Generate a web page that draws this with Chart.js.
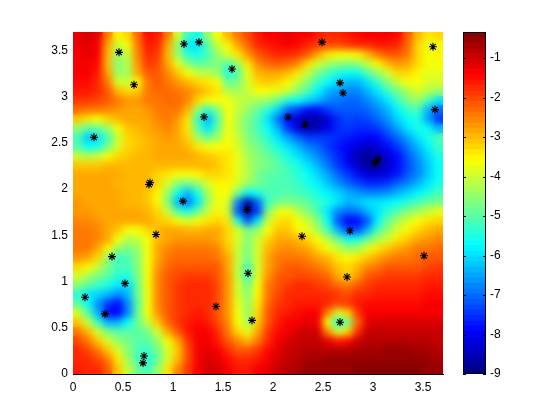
<!DOCTYPE html>
<html>
<head>
<meta charset="utf-8">
<script src="https://cdn.jsdelivr.net/npm/chart.js@4"></script>
<style>
  html, body { margin: 0; padding: 0; background: #fff; }
  #wrap { position: relative; width: 560px; height: 420px; overflow: hidden; }
  canvas { position: absolute; top: 0; }
</style>
</head>
<body>
<div id="wrap">
  <canvas id="map" width="560" height="420" style="left:0"></canvas>
  <canvas id="cbar" width="120" height="420" style="left:440px"></canvas>
</div>
<script>
// cell centres of the map
const xCenters = [.05,.15,.25,.35,.45,.55,.65,.75,.85,.95,1.05,1.15,1.25,1.35,1.45,1.55,1.65,1.75,1.85,1.95,2.05,2.15,2.25,2.35,2.45,2.55,2.65,2.75,2.85,2.95,3.05,3.15,3.25,3.35,3.45,3.55,3.65];
const yCenters = [3.65,3.55,3.45,3.35,3.25,3.15,3.05,2.95,2.85,2.75,2.65,2.55,2.45,2.35,2.25,2.15,2.05,1.95,1.85,1.75,1.65,1.55,1.45,1.35,1.25,1.15,1.05,.95,.85,.75,.65,.55,.45,.35,.25,.15,.05];

// values, one row per y centre
const fieldRows = [
[-1.2,-1.1,-1.2,-2.4,-3.5,-3.3,-2.3,-1.5,-1.6,-2.5,-3.9,-5.3,-5.6,-4.5,-3.7,-3.0,-2.5,-2.0,-1.6,-1.4,-1.3,-1.2,-1.3,-1.4,-1.6,-1.7,-1.7,-1.6,-1.5,-1.4,-1.4,-1.4,-1.5,-2.1,-3.0,-3.4,-3.2],
[-1.2,-1.2,-1.3,-2.8,-4.1,-3.7,-2.5,-1.6,-1.7,-2.8,-4.5,-5.9,-6.0,-5.0,-4.1,-3.5,-2.9,-2.3,-1.8,-1.6,-1.5,-1.4,-1.5,-1.7,-1.9,-2.0,-2.0,-1.9,-1.8,-1.7,-1.6,-1.6,-1.7,-2.3,-3.2,-3.8,-3.6],
[-1.3,-1.2,-1.4,-3.0,-4.5,-4.0,-2.6,-1.7,-1.9,-3.0,-4.4,-5.4,-5.6,-5.1,-4.4,-3.9,-3.4,-2.7,-2.1,-1.9,-1.8,-1.8,-1.9,-2.2,-2.8,-3.4,-3.6,-3.6,-3.5,-3.0,-2.4,-2.1,-2.1,-2.5,-3.2,-3.7,-3.5],
[-1.3,-1.3,-1.5,-3.0,-4.6,-4.2,-2.7,-1.9,-2.0,-2.9,-3.8,-4.6,-5.0,-4.9,-4.6,-5.0,-4.5,-3.4,-2.6,-2.3,-2.2,-2.3,-2.6,-3.2,-3.9,-4.3,-4.5,-4.6,-4.5,-4.1,-3.5,-3.0,-2.7,-2.8,-3.3,-3.7,-3.6],
[-1.4,-1.4,-1.6,-2.9,-4.4,-4.3,-2.9,-2.1,-2.1,-2.6,-3.1,-3.7,-4.0,-4.2,-4.5,-5.6,-5.0,-3.8,-3.0,-2.8,-2.8,-3.0,-3.4,-4.1,-4.7,-5.1,-5.5,-5.7,-5.7,-5.0,-4.5,-3.9,-3.3,-3.2,-3.5,-3.8,-3.8],
[-1.5,-1.5,-1.7,-2.5,-3.9,-4.1,-3.5,-2.4,-2.2,-2.4,-2.7,-3.0,-3.2,-3.4,-3.6,-4.9,-4.7,-3.9,-3.2,-3.1,-3.2,-3.5,-4.1,-4.6,-5.3,-5.7,-6.1,-6.3,-6.3,-5.9,-5.3,-4.6,-4.0,-3.7,-3.7,-3.9,-3.9],
[-1.6,-1.6,-1.8,-2.2,-3.0,-3.3,-3.1,-2.5,-2.3,-2.3,-2.4,-2.6,-2.9,-3.1,-3.4,-4.2,-4.3,-4.0,-3.6,-3.6,-3.8,-4.1,-4.6,-5.2,-5.8,-6.3,-6.6,-6.7,-6.7,-6.4,-6.0,-5.3,-4.7,-4.3,-3.9,-4.2,-4.4],
[-1.9,-1.9,-2.0,-2.2,-2.5,-2.7,-2.7,-2.5,-2.4,-2.3,-2.3,-2.6,-3.2,-3.7,-3.7,-3.7,-4.0,-4.2,-4.3,-4.5,-4.9,-5.6,-5.7,-6.1,-6.4,-6.7,-6.9,-7.0,-7.0,-6.8,-6.4,-5.9,-5.3,-4.8,-4.5,-5.2,-6.0],
[-2.3,-2.4,-2.5,-2.6,-2.7,-2.8,-2.8,-2.7,-2.5,-2.4,-2.5,-3.0,-4.4,-5.4,-4.6,-3.7,-4.1,-4.5,-4.9,-5.4,-6.1,-7.0,-7.5,-7.8,-7.8,-7.5,-7.2,-7.2,-7.2,-7.1,-6.8,-6.3,-5.8,-5.3,-5.1,-6.3,-7.1],
[-3.1,-3.4,-3.6,-3.3,-3.0,-2.9,-2.9,-2.8,-2.6,-2.5,-2.7,-3.4,-5.3,-6.4,-5.1,-3.7,-4.2,-4.7,-5.2,-5.9,-6.9,-7.9,-8.4,-8.7,-8.6,-8.2,-7.6,-7.3,-7.4,-7.3,-7.0,-6.6,-6.1,-5.7,-5.5,-6.5,-7.4],
[-4.4,-5.0,-4.9,-4.4,-3.6,-3.1,-3.0,-2.9,-2.7,-2.6,-2.8,-3.4,-5.0,-6.0,-4.9,-3.7,-4.2,-4.7,-5.2,-5.7,-6.4,-7.5,-8.2,-8.6,-8.5,-8.1,-7.6,-7.4,-7.6,-7.6,-7.4,-7.0,-6.5,-6.0,-5.6,-5.7,-6.3],
[-5.2,-6.2,-6.0,-5.2,-4.1,-3.3,-3.1,-3.0,-2.8,-2.7,-2.8,-3.2,-4.3,-4.9,-4.3,-3.6,-4.1,-4.6,-5.0,-5.4,-5.9,-6.5,-7.1,-7.5,-7.5,-7.5,-7.6,-7.7,-7.9,-8.0,-7.8,-7.4,-7.0,-6.5,-6.0,-5.5,-5.2],
[-5.0,-5.7,-5.5,-4.8,-3.9,-3.3,-3.1,-3.0,-2.9,-2.8,-2.8,-3.0,-3.4,-3.7,-3.6,-3.5,-3.9,-4.4,-4.8,-5.1,-5.5,-5.9,-6.4,-6.8,-7.1,-7.4,-7.7,-8.0,-8.3,-8.4,-8.3,-7.9,-7.4,-6.9,-6.4,-5.8,-5.3],
[-4.0,-4.2,-4.1,-3.7,-3.3,-3.1,-3.0,-3.0,-2.9,-2.9,-2.9,-2.9,-3.0,-3.1,-3.2,-3.4,-3.8,-4.3,-4.6,-4.9,-5.2,-5.5,-5.9,-6.4,-6.8,-7.2,-7.6,-8.1,-8.5,-8.8,-8.7,-8.3,-7.8,-7.2,-6.6,-6.1,-5.6],
[-3.1,-3.1,-3.1,-3.0,-3.0,-3.0,-3.0,-3.0,-3.0,-3.0,-3.0,-3.0,-3.0,-3.0,-3.1,-3.4,-3.8,-4.2,-4.6,-4.8,-5.0,-5.3,-5.6,-6.0,-6.4,-6.9,-7.4,-7.9,-8.4,-8.8,-8.8,-8.4,-7.9,-7.3,-6.8,-6.2,-5.7],
[-2.9,-2.9,-2.9,-2.9,-2.9,-3.0,-3.0,-3.0,-3.2,-3.4,-3.7,-3.7,-3.5,-3.3,-3.2,-3.4,-3.8,-4.2,-4.8,-5.0,-5.0,-5.2,-5.4,-5.7,-6.1,-6.5,-7.0,-7.5,-7.9,-8.3,-8.3,-8.1,-7.7,-7.2,-6.7,-6.2,-5.7],
[-2.8,-2.8,-2.9,-2.9,-3.0,-3.0,-3.0,-3.0,-3.3,-3.9,-4.6,-4.9,-4.5,-3.9,-3.5,-3.5,-3.9,-4.4,-4.7,-5.0,-5.1,-5.1,-5.3,-5.5,-5.8,-6.2,-6.6,-7.0,-7.3,-7.6,-7.6,-7.4,-7.1,-6.7,-6.3,-5.9,-5.5],
[-2.8,-2.8,-2.8,-2.9,-2.9,-3.0,-3.0,-3.1,-3.5,-4.4,-5.7,-6.4,-5.6,-4.3,-3.6,-3.6,-4.8,-5.8,-5.5,-5.2,-5.1,-5.0,-5.1,-5.3,-5.5,-5.8,-6.1,-6.4,-6.6,-6.7,-6.8,-6.6,-6.4,-6.1,-5.8,-5.5,-5.2],
[-2.7,-2.8,-2.8,-2.9,-2.9,-3.0,-3.0,-3.1,-3.5,-4.6,-6.3,-6.9,-6.0,-4.4,-3.6,-3.9,-6.7,-8.8,-7.0,-5.3,-4.8,-4.7,-4.8,-5.0,-5.3,-5.6,-6.0,-6.3,-6.2,-6.0,-5.9,-5.8,-5.7,-5.4,-5.1,-4.9,-4.7],
[-2.7,-2.7,-2.8,-2.8,-2.9,-2.9,-2.9,-3.0,-3.3,-4.1,-5.1,-5.5,-4.9,-4.1,-3.5,-4.0,-7.2,-9.0,-7.4,-4.8,-3.8,-3.7,-4.2,-4.6,-5.2,-6.0,-6.8,-7.0,-6.9,-6.4,-5.9,-5.4,-5.0,-4.6,-4.3,-4.0,-3.8],
[-2.6,-2.6,-2.7,-2.8,-2.8,-2.9,-2.9,-2.9,-3.1,-3.3,-3.7,-3.9,-3.7,-3.4,-3.2,-3.4,-5.6,-7.2,-5.9,-4.1,-3.4,-3.3,-3.6,-4.0,-4.6,-5.7,-7.2,-8.0,-7.9,-7.2,-5.8,-4.9,-4.3,-3.9,-3.6,-3.4,-3.2],
[-2.5,-2.5,-2.6,-2.8,-3.1,-3.6,-3.7,-3.3,-3.0,-2.9,-2.9,-3.0,-3.0,-2.9,-2.9,-3.2,-3.9,-4.8,-4.5,-3.6,-3.1,-3.1,-3.5,-3.8,-4.3,-5.1,-6.4,-7.3,-7.3,-6.4,-5.2,-4.4,-3.9,-3.5,-3.2,-3.0,-2.8],
[-2.4,-2.4,-2.6,-2.9,-3.7,-4.2,-4.1,-3.6,-3.0,-2.8,-2.7,-2.7,-2.7,-2.7,-2.8,-3.2,-3.9,-4.6,-4.0,-3.2,-2.9,-2.9,-3.0,-3.3,-3.7,-4.2,-4.9,-5.6,-5.6,-4.9,-4.3,-3.9,-3.4,-3.1,-2.9,-2.7,-2.6],
[-2.4,-2.5,-2.8,-3.5,-4.4,-4.7,-4.4,-3.6,-2.9,-2.6,-2.5,-2.5,-2.5,-2.5,-2.6,-3.1,-4.0,-4.7,-3.9,-3.0,-2.7,-2.6,-2.7,-2.9,-3.3,-3.7,-4.1,-4.4,-4.3,-3.8,-3.4,-3.1,-2.9,-2.7,-2.5,-2.4,-2.3],
[-2.7,-2.8,-3.2,-4.4,-5.3,-5.2,-4.6,-3.6,-2.8,-2.4,-2.3,-2.3,-2.3,-2.3,-2.4,-2.9,-4.0,-4.8,-3.9,-2.9,-2.5,-2.4,-2.5,-2.6,-2.8,-3.0,-3.4,-3.6,-3.4,-3.1,-2.8,-2.6,-2.5,-2.4,-2.3,-2.1,-2.1],
[-3.2,-3.5,-4.0,-4.7,-5.1,-5.2,-4.6,-3.6,-2.7,-2.3,-2.1,-2.1,-2.1,-2.1,-2.2,-2.8,-4.1,-5.1,-3.9,-2.8,-2.4,-2.2,-2.2,-2.3,-2.4,-2.7,-3.1,-3.3,-3.0,-2.6,-2.4,-2.2,-2.2,-2.2,-2.1,-2.0,-1.9],
[-3.9,-4.3,-4.7,-5.0,-5.4,-5.6,-4.7,-3.6,-2.6,-2.2,-2.0,-1.9,-1.9,-1.9,-2.1,-2.7,-4.0,-5.3,-3.8,-2.7,-2.2,-2.1,-2.0,-2.0,-2.1,-2.3,-2.9,-3.2,-2.7,-2.2,-2.0,-1.9,-1.9,-1.9,-1.9,-1.8,-1.7],
[-4.6,-5.0,-5.3,-5.5,-6.0,-6.1,-4.9,-3.6,-2.6,-2.1,-1.9,-1.8,-1.8,-1.8,-2.0,-2.7,-3.9,-4.8,-3.6,-2.5,-2.1,-1.9,-1.8,-1.8,-1.9,-2.0,-2.3,-2.5,-2.2,-1.9,-1.8,-1.7,-1.7,-1.7,-1.7,-1.6,-1.6],
[-5.4,-5.9,-6.1,-6.4,-6.7,-6.3,-4.9,-3.6,-2.6,-2.1,-1.9,-1.8,-1.7,-1.7,-2.0,-2.7,-3.9,-4.6,-3.5,-2.4,-2.0,-1.8,-1.7,-1.7,-1.7,-1.8,-1.9,-2.0,-1.8,-1.7,-1.6,-1.6,-1.6,-1.6,-1.6,-1.5,-1.5],
[-4.9,-5.7,-6.6,-7.5,-7.8,-6.8,-5.0,-3.6,-2.6,-2.1,-1.9,-1.7,-1.7,-1.7,-2.0,-2.7,-3.8,-4.5,-3.4,-2.3,-1.9,-1.7,-1.6,-1.6,-1.6,-1.7,-2.0,-1.9,-1.6,-1.5,-1.5,-1.5,-1.5,-1.5,-1.5,-1.4,-1.4],
[-3.9,-5.0,-6.4,-7.9,-8.0,-6.7,-4.9,-3.7,-2.7,-2.1,-1.9,-1.7,-1.6,-1.7,-2.1,-2.7,-3.7,-4.4,-3.3,-2.2,-1.8,-1.6,-1.5,-1.4,-1.4,-2.6,-3.9,-3.3,-1.9,-1.3,-1.3,-1.3,-1.3,-1.3,-1.3,-1.3,-1.3],
[-3.1,-4.0,-5.3,-6.3,-6.4,-5.7,-4.9,-4.0,-3.1,-2.3,-1.9,-1.6,-1.5,-1.6,-2.0,-2.6,-3.6,-4.3,-3.1,-2.1,-1.6,-1.4,-1.3,-1.2,-1.3,-3.7,-5.6,-4.8,-2.3,-1.2,-1.1,-1.1,-1.1,-1.1,-1.1,-1.1,-1.1],
[-2.4,-3.0,-3.9,-4.8,-5.0,-5.0,-5.0,-4.7,-3.9,-2.9,-2.1,-1.6,-1.4,-1.4,-1.8,-2.4,-3.3,-3.8,-2.9,-1.9,-1.5,-1.3,-1.1,-1.0,-1.1,-2.6,-3.9,-3.2,-1.8,-1.0,-1.0,-.9,-.9,-.9,-.9,-1.0,-1.0],
[-2.0,-2.4,-3.1,-3.9,-4.4,-4.7,-5.0,-5.0,-4.4,-3.6,-2.8,-1.9,-1.4,-1.3,-1.6,-2.1,-2.6,-3.0,-2.4,-1.7,-1.3,-1.1,-1.0,-.9,-.9,-1.2,-1.6,-1.5,-.9,-.8,-.8,-.8,-.8,-.8,-.8,-.8,-.9],
[-1.8,-2.0,-2.4,-3.1,-3.9,-4.6,-5.2,-5.3,-4.7,-3.9,-3.1,-2.0,-1.4,-1.2,-1.4,-1.8,-2.1,-2.2,-1.9,-1.5,-1.2,-1.0,-.9,-.8,-.8,-.8,-.8,-.8,-.7,-.7,-.7,-.6,-.6,-.6,-.7,-.7,-.8],
[-1.7,-1.8,-2.0,-2.5,-3.4,-4.3,-5.2,-5.6,-4.9,-3.9,-3.0,-2.0,-1.4,-1.1,-1.2,-1.5,-1.8,-1.8,-1.6,-1.3,-1.1,-.9,-.8,-.7,-.7,-.6,-.6,-.6,-.6,-.5,-.5,-.5,-.5,-.5,-.5,-.6,-.7],
[-1.6,-1.7,-1.8,-2.2,-3.1,-4.0,-4.9,-5.2,-4.5,-3.4,-2.6,-1.9,-1.4,-1.1,-1.1,-1.4,-1.6,-1.6,-1.4,-1.2,-1.0,-.8,-.7,-.6,-.6,-.5,-.5,-.5,-.4,-.4,-.4,-.4,-.4,-.4,-.4,-.5,-.6]
];

// the black asterisks
const starX = [.46,.61,.21,.76,.77,1.11,1.26,1.59,1.31,1.10,1.74,.83,.39,.52,.12,.32,.71,.70,1.43,1.75,1.79,2.29,2.77,2.74,2.67,3.51,2.49,2.67,2.70,2.15,2.32,3.02,3.05,3.62,3.60];
const starY = [3.48,3.13,2.56,2.05,2.07,3.57,3.59,3.30,2.78,1.87,1.78,1.51,1.27,.98,.83,.65,.195,.12,.73,1.09,.58,1.49,1.55,1.05,.56,1.28,3.59,3.15,3.04,2.78,2.70,2.28,2.32,2.86,3.54];

const axisTicks = [0,.5,1,1.5,2,2.5,3,3.5];
const cbarTicks = [-9,-8,-7,-6,-5,-4,-3,-2,-1];
const valueMin = -9, valueMax = -0.34, axisMax = 3.7, levels = 64;

const fontFamily = '"Liberation Sans", Arial, sans-serif';

// matlab jet, 64 steps
function jet(t) {
  const lvl = Math.min(levels - 1, Math.max(0, Math.floor(t * levels)));
  const f = (lvl + .5) / levels;
  const ch = c => Math.round(255 * Math.max(0, Math.min(1, 1.5 - Math.abs(4 * f - c))));
  return `rgb(${ch(3)},${ch(2)},${ch(1)})`;
}
const colorOf = v => jet((v - valueMin) / (valueMax - valueMin));

const cells = [], cellColors = [];
yCenters.forEach((y, r) => xCenters.forEach((x, c) => {
  cells.push({ x, y });
  cellColors.push(colorOf(fieldRows[r][c]));
}));

// smooths the drawn cells so the map reads as a continuous field
const smoothCells = {
  id: 'smoothCells',
  afterDatasetDraw(chart, args) {
    if (args.index !== 1) return;
    const { ctx, canvas, chartArea: a } = chart;
    const w = a.right - a.left, h = a.bottom - a.top;
    ctx.save();
    ctx.beginPath();
    ctx.rect(a.left, a.top, w, h);
    ctx.clip();
    ctx.filter = 'blur(3.5px)';
    ctx.drawImage(canvas, a.left, a.top, w, h, a.left, a.top, w, h);
    ctx.restore();
  }
};

new Chart(document.getElementById('map'), {
  type: 'scatter',
  data: {
    datasets: [
      {
        data: starX.map((x, i) => ({ x, y: starY[i] })),
        pointStyle: 'star',
        pointRadius: 4,
        pointBorderColor: '#000',
        pointBorderWidth: 1.1,
        pointBackgroundColor: '#000'
      },
      {
        data: cells,
        pointStyle: 'rect',
        pointRadius: 7.6,
        pointBorderWidth: 0,
        pointBackgroundColor: cellColors,
        clip: 0
      }
    ]
  },
  options: {
    responsive: false,
    animation: false,
    events: [],
    layout: { padding: { left: 0, top: 32, right: 117, bottom: 0 } },
    plugins: { legend: { display: false }, tooltip: { enabled: false } },
    scales: {
      x: {
        type: 'linear', min: 0, max: axisMax,
        grid: { display: false, drawTicks: false },
        border: { display: true, color: '#000' },
        afterBuildTicks: s => { s.ticks = axisTicks.map(value => ({ value })); },
        afterFit: s => { s.height = 46; },
        ticks: { color: '#000', font: { family: fontFamily, size: 12 }, maxRotation: 0, padding: 6, callback: v => String(v) }
      },
      y: {
        type: 'linear', min: 0, max: axisMax,
        grid: { display: false, drawTicks: false },
        border: { display: false },
        afterBuildTicks: s => { s.ticks = axisTicks.map(value => ({ value })); },
        afterFit: s => { s.width = 73; },
        ticks: { color: '#000', font: { family: fontFamily, size: 12 }, padding: 5, callback: v => String(v) }
      }
    }
  },
  plugins: [smoothCells]
});

// ── Colour bar ─────────────────────────────────────
const barLabels = [], barColors = [], barValues = [];
for (let i = levels - 1; i >= 0; i--) {
  barLabels.push(i);
  barValues.push(1);
  barColors.push(jet((i + .5) / levels));
}

const cbarFrame = {
  id: 'cbarFrame',
  afterDraw(chart) {
    const { ctx, chartArea: a, scales } = chart;
    ctx.save();
    ctx.strokeStyle = '#000';
    ctx.lineWidth = 1;
    ctx.strokeRect(a.left + .5, a.top + .5, a.right - a.left - 1, a.bottom - a.top - 1);
    cbarTicks.forEach(t => {
      const y = Math.round(scales.num.getPixelForValue(t)) + .5;
      ctx.beginPath();
      ctx.moveTo(a.left, y); ctx.lineTo(a.left + 3, y);
      ctx.moveTo(a.right - 3, y); ctx.lineTo(a.right, y);
      ctx.stroke();
    });
    ctx.restore();
  }
};

new Chart(document.getElementById('cbar'), {
  type: 'bar',
  data: {
    labels: barLabels,
    datasets: [{ data: barValues, backgroundColor: barColors, barPercentage: 1, categoryPercentage: 1, borderWidth: 0, yAxisID: 'y' }]
  },
  options: {
    indexAxis: 'y',
    responsive: false,
    animation: false,
    events: [],
    layout: { padding: { left: 23, top: 32, right: 0, bottom: 46 } },
    plugins: { legend: { display: false }, tooltip: { enabled: false } },
    scales: {
      x: { min: 0, max: 1, display: false },
      y: { type: 'category', display: false },
      num: {
        type: 'linear', position: 'right', min: valueMin, max: valueMax, offset: false,
        grid: { display: false, drawTicks: false },
        border: { display: false },
        afterBuildTicks: s => { s.ticks = cbarTicks.map(value => ({ value })); },
        afterFit: s => { s.width = 74; },
        ticks: { color: '#000', font: { family: fontFamily, size: 12 }, padding: 4, callback: v => String(v) }
      }
    }
  },
  plugins: [cbarFrame]
});
</script>
</body>
</html>
